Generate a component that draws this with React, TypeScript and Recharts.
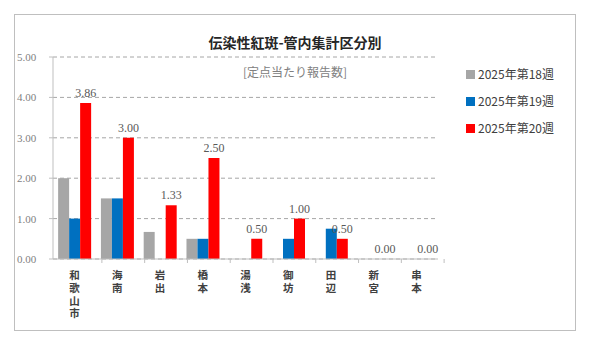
import React from "react";
import {
  BarChart,
  Bar,
  XAxis,
  YAxis,
  CartesianGrid,
  Legend,
  LabelList,
} from "recharts";

const areas = ["和歌山市", "海南", "岩出", "橋本", "湯浅", "御坊", "田辺", "新宮", "串本"];
const week18 = [2.0, 1.5, 0.67, 0.5, 0, 0, 0, 0, 0];
const week19 = [1.0, 1.5, 0, 0.5, 0, 0.5, 0.75, 0, 0];
const week20 = [3.86, 3.0, 1.33, 2.5, 0.5, 1.0, 0.5, 0, 0];
const yTicks = [0, 1, 2, 3, 4, 5];

const series = [
  { key: "2025年第18週", values: week18, color: "#a6a6a6" },
  { key: "2025年第19週", values: week19, color: "#0070c0" },
  { key: "2025年第20週", values: week20, color: "#ff0000" },
];

const data = areas.map((a, i) => {
  const row: any = { area: a };
  series.forEach((s) => (row[s.key] = s.values[i]));
  return row;
});

const plotLeft = 53;
const plotRight = 548;
const halfBand = (plotRight - plotLeft) / areas.length / 2;

// vertical (one char per line) category label + boundary tick
const AreaTick = (props: any) => {
  const { x, y, payload } = props;
  const chars = String(payload.value).split("");
  return (
    <g>
      <line x1={x + halfBand} x2={x + halfBand} y1={y - 8} y2={y - 4} stroke="#bfbfbf" />
      <text
        x={x}
        y={y + 12}
        textAnchor="middle"
        fontSize={10.5}
        fontWeight="bold"
        fill="#404040"
        fontFamily="'Noto Sans CJK JP', sans-serif"
      >
        {chars.map((c, i) => (
          <tspan key={i} x={x} dy={i === 0 ? 0 : 12.8}>
            {c}
          </tspan>
        ))}
      </text>
    </g>
  );
};

const ValueLabel = (props: any) => {
  const { x, y, width, value } = props;
  return (
    <text
      x={x + width / 2}
      y={y - 6}
      textAnchor="middle"
      fontSize={12}
      fill="#595959"
      fontFamily="'Liberation Serif', 'Times New Roman', serif"
    >
      {Number(value).toFixed(2)}
    </text>
  );
};

const LegendBox = () => (
  <div style={{ fontFamily: "'Noto Sans CJK JP', sans-serif", fontSize: 12, color: "#404040" }}>
    {series.map((s) => (
      <div key={s.key} style={{ display: "flex", alignItems: "center", height: 27 }}>
        <span style={{ width: 9, height: 9, background: s.color, marginRight: 3, marginTop: 2 }} />
        {s.key}
      </div>
    ))}
  </div>
);

export default function App() {
  return (
    <div style={{ position: "absolute", left: 0, top: 0, width: 593, height: 351, background: "#fff" }}>
      <div
        style={{
          position: "absolute",
          left: 14,
          top: 14,
          width: 560,
          height: 315,
          border: "1.5px solid #bfbfbf",
        }}
      />
      <div
        style={{
          position: "absolute",
          left: 0,
          width: 590,
          top: 32,
          textAlign: "center",
          fontFamily: "'Noto Sans CJK JP', sans-serif",
          fontWeight: "bold",
          fontSize: 14,
          color: "#262626",
        }}
      >
        伝染性紅斑-管内集計区分別
      </div>
      <div
        style={{
          position: "absolute",
          left: 0,
          width: 590,
          top: 63,
          textAlign: "center",
          fontFamily: "'Noto Sans CJK JP', sans-serif",
          fontSize: 12,
          color: "#808080",
          zIndex: 2,
        }}
      >
        [定点当たり報告数]
      </div>
      <BarChart
        width={593}
        height={351}
        data={data}
        margin={{ top: 57, right: 593 - plotRight, left: 0, bottom: 62 }}
        barCategoryGap="12%"
        barGap={0}
      >
        <CartesianGrid vertical={false} strokeDasharray="4 3" stroke="#a6a6a6" />
        <XAxis
          dataKey="area"
          interval={0}
          height={30}
          tick={<AreaTick />}
          tickLine={false}
          axisLine={{ stroke: "#bfbfbf" }}
        />
        <YAxis
          width={plotLeft}
          domain={[0, 5]}
          ticks={yTicks}
          tickFormatter={(v: number) => v.toFixed(2)}
          tick={{ fontSize: 11, fill: "#7f7f7f", fontFamily: "'Liberation Serif', serif", textAnchor: "start", dx: -30 }}
          tickSize={4}
          tickLine={{ stroke: "#bfbfbf" }}
          axisLine={{ stroke: "#bfbfbf" }}
        />
        <Legend
          layout="vertical"
          verticalAlign="top"
          align="right"
          content={<LegendBox />}
          wrapperStyle={{ top: 60, left: 466, width: 110 }}
        />
        {series.map((s, idx) => (
          <Bar
            key={s.key}
            dataKey={s.key}
            fill={s.color}
            minPointSize={idx === 2 ? 0.01 : 0}
            isAnimationActive={false}
          >
            {idx === 2 && <LabelList dataKey={s.key} content={<ValueLabel />} />}
          </Bar>
        ))}
      </BarChart>
    </div>
  );
}
